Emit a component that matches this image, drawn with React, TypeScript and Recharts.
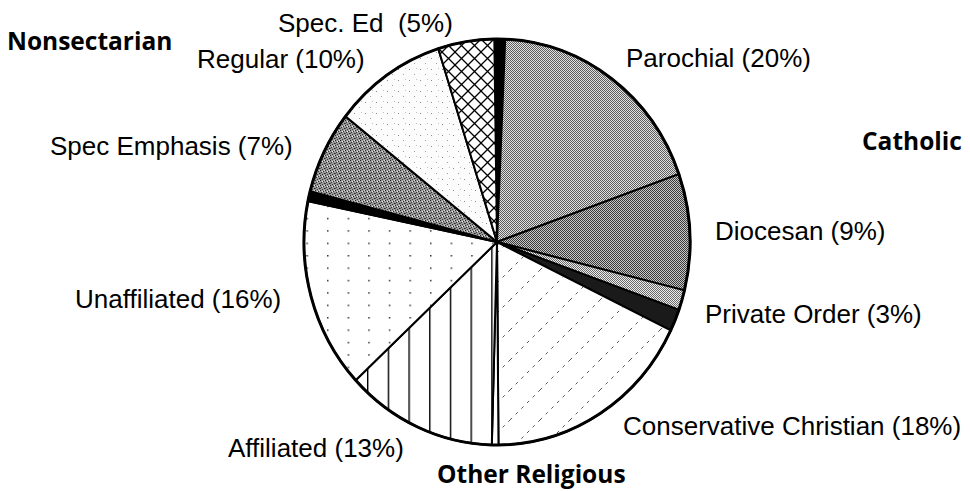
import React from 'react';
import { PieChart, Pie, Cell } from 'recharts';

// Slices clockwise from the top (shares of the full circle)
const CATEGORIES = [
  'divider-top',
  'Parochial',
  'Diocesan',
  'Private Order',
  'divider-catholic',
  'Conservative Christian',
  'divider-religious',
  'Affiliated',
  'Unaffiliated',
  'divider-nonsectarian',
  'Spec Emphasis',
  'Regular',
  'Spec. Ed',
];
const VALUES = [0.9, 18.9, 9.25, 1.6, 1.75, 17.7, 0.55, 12.65, 15.15, 0.8, 6.6, 9.45, 4.7];

// Printed labels
const LABEL_NAMES = [
  'Spec. Ed  (5%)',
  'Regular (10%)',
  'Parochial (20%)',
  'Diocesan (9%)',
  'Private Order (3%)',
  'Conservative Christian (18%)',
  'Affiliated (13%)',
  'Spec Emphasis (7%)',
  'Unaffiliated (16%)',
];
const GROUP_NAMES = ['Nonsectarian', 'Catholic', 'Other Religious'];

// layout
const LABEL_POS = [
  [278, 32],
  [197, 68],
  [626, 67],
  [715, 240],
  [705, 323],
  [623, 435],
  [228, 457],
  [50, 155],
  [75, 308],
];
const GROUP_POS = [
  [7, 50],
  [862, 150],
  [437, 483],
];

const FILLS = [
  '#000',
  'url(#pParochial)',
  'url(#pDiocesan)',
  'url(#pPrivate)',
  '#1a1a1a',
  'url(#pConservative)',
  '#fff',
  'url(#pAffiliated)',
  'url(#pUnaffiliated)',
  '#000',
  'url(#pSpecEmph)',
  'url(#pRegular)',
  'url(#pSpecEd)',
];

const data = CATEGORIES.map((name, i) => ({ name, value: VALUES[i] }));

const RX_F = 193 / 198;
const RY_F = 203 / 198;

const EllipseSector = (props: any) => {
  const { cx, cy, outerRadius, startAngle, endAngle, fill } = props;
  const rx = outerRadius * RX_F;
  const ry = outerRadius * RY_F;
  const rad = Math.PI / 180;
  const p = (a: number) => [cx + rx * Math.cos(a * rad), cy - ry * Math.sin(a * rad)];
  const [x1, y1] = p(startAngle);
  const [x2, y2] = p(endAngle);
  const large = Math.abs(endAngle - startAngle) > 180 ? 1 : 0;
  const sweep = startAngle > endAngle ? 1 : 0;
  const d = `M${cx},${cy} L${x1},${y1} A${rx},${ry} 0 ${large} ${sweep} ${x2},${y2} Z`;
  const arc = `M${x1},${y1} A${rx},${ry} 0 ${large} ${sweep} ${x2},${y2}`;
  return (
    <g>
      <path d={d} fill={fill} stroke="#000" strokeWidth={2} strokeLinejoin="miter" />
      <path d={arc} fill="none" stroke="#000" strokeWidth={3} />
    </g>
  );
};

const labelStyle: React.CSSProperties = {
  fontFamily: '"Liberation Sans", Arial, sans-serif',
  fontSize: 26,
  whiteSpace: 'pre',
};
const groupStyle: React.CSSProperties = {
  fontFamily: '"Open Sans", "Noto Sans", sans-serif',
  fontSize: 24.5,
  fontWeight: 700,
};

export default function App() {
  return (
    <div style={{ position: 'absolute', left: 0, top: 0, background: '#fff' }}>
      <PieChart width={970} height={491} margin={{ top: 0, right: 0, bottom: 0, left: 0 }}>
        <defs>
          <pattern id="pParochial" width="2" height="2" patternUnits="userSpaceOnUse">
            <rect width="2" height="2" fill="#e2e2e2" />
            <rect width="1" height="1" fill="#5c5c5c" />
            <rect x="1" y="1" width="1" height="1" fill="#5c5c5c" />
          </pattern>
          <pattern id="pDiocesan" width="2" height="2" patternUnits="userSpaceOnUse">
            <rect width="2" height="2" fill="#c6c6c6" />
            <rect width="1" height="1" fill="#3a3a3a" />
            <rect x="1" y="1" width="1" height="1" fill="#3a3a3a" />
          </pattern>
          <pattern id="pPrivate" width="2" height="2" patternUnits="userSpaceOnUse">
            <rect width="2" height="2" fill="#ececec" />
            <rect width="1" height="1" fill="#6a6a6a" />
            <rect x="1" y="1" width="1" height="1" fill="#6a6a6a" />
          </pattern>
          <pattern id="pSpecEmph" width="5" height="5" patternUnits="userSpaceOnUse">
            <rect width="5" height="5" fill="#9a9a9a" />
            <rect x="0" y="0" width="1" height="1" fill="#222" />
            <rect x="3" y="1" width="1" height="1" fill="#2a2a2a" />
            <rect x="1" y="2" width="1" height="1" fill="#333" />
            <rect x="4" y="3" width="1" height="1" fill="#222" />
            <rect x="2" y="4" width="1" height="1" fill="#3a3a3a" />
            <rect x="2" y="1" width="1" height="1" fill="#eee" />
            <rect x="4" y="0" width="1" height="1" fill="#ddd" />
            <rect x="0" y="3" width="1" height="1" fill="#555" />
          </pattern>
          <pattern id="pRegular" width="11" height="11" patternUnits="userSpaceOnUse">
            <rect width="11" height="11" fill="#fcfcfc" />
            <rect x="2" y="3" width="1" height="1" fill="#8a8a8a" />
            <rect x="7" y="8" width="1" height="1" fill="#a0a0a0" />
            <rect x="9" y="2" width="1" height="1" fill="#c0c0c0" />
          </pattern>
          <pattern id="pSpecEd" width="13" height="13" patternUnits="userSpaceOnUse">
            <rect width="13" height="13" fill="#fff" />
            <path d="M0,0 L13,13 M13,0 L0,13" stroke="#000" strokeWidth={1.3} />
          </pattern>
          <pattern id="pAffiliated" x="367" y="0" width="20.7" height="10" patternUnits="userSpaceOnUse">
            <rect width="20.7" height="10" fill="#fff" />
            <line x1="0.7" y1="0" x2="0.7" y2="10" stroke="#000" strokeWidth={1.4} />
          </pattern>
          <pattern id="pUnaffiliated" x="327" y="255" width="20.6" height="12.4" patternUnits="userSpaceOnUse">
            <rect width="20.6" height="12.4" fill="#fff" />
            <rect x="0" y="0" width="1.5" height="1.5" fill="#333" />
          </pattern>
          <pattern id="pConservative" width="30" height="30" patternUnits="userSpaceOnUse">
            <rect width="30" height="30" fill="#fff" />
            <path d="M0,30 L30,0" stroke="#555" strokeWidth={1} strokeDasharray="3 5" />
          </pattern>
        </defs>
        <Pie
          data={data}
          dataKey="value"
          nameKey="name"
          cx={497}
          cy={242}
          innerRadius={0}
          outerRadius={198}
          startAngle={90.8}
          endAngle={-269.2}
          stroke="#000"
          strokeWidth={2}
          isAnimationActive={false}
          shape={EllipseSector}
          labelLine={false}
        >
          {data.map((d, i) => (
            <Cell key={d.name} fill={FILLS[i]} />
          ))}
        </Pie>
        {LABEL_NAMES.map((t, i) => (
          <text key={t} x={LABEL_POS[i][0]} y={LABEL_POS[i][1]} style={labelStyle} fill="#000">
            {t}
          </text>
        ))}
        {GROUP_NAMES.map((t, i) => (
          <text key={t} x={GROUP_POS[i][0]} y={GROUP_POS[i][1]} style={groupStyle} fill="#000">
            {t}
          </text>
        ))}
      </PieChart>
    </div>
  );
}
